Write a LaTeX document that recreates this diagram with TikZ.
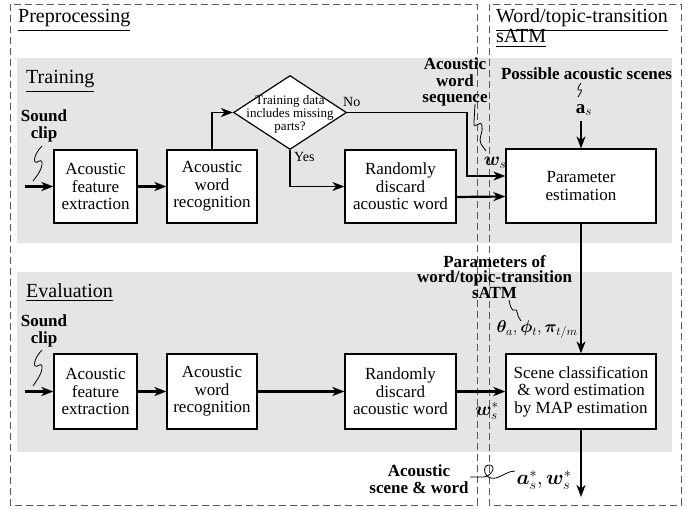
\RequirePackage{fix-cm}
\documentclass[tikz,border=0pt]{standalone}
\usepackage{amsmath}
\usepackage{bm}
\usepackage{fontspec}
\setmainfont{Liberation Serif}
\usetikzlibrary{arrows.meta,shapes.geometric}
\begin{document}
\begin{tikzpicture}[x=1pt,y=-1pt,
  box/.style={draw, fill=white, line width=1.2pt, align=center, inner sep=0pt, font=\fontsize{17}{17.5}\selectfont},
  zone/.style={draw=black!65, dash pattern=on 7pt off 4pt, line width=0.9pt},
  band/.style={fill=black!10},
  thk/.style={line width=2.2pt, -{Stealth[length=12pt,width=9pt,inset=3.5pt]}},
  thn/.style={line width=1.3pt, -{Stealth[length=12pt,width=9pt,inset=3.5pt]}},
  lbl/.style={font=\bfseries\fontsize{17}{16.5}\selectfont, align=center, inner sep=0pt},
  ttl/.style={font=\fontsize{20}{20}\selectfont, anchor=base west, inner sep=0pt},
  mth/.style={font=\fontsize{19}{19}\selectfont, inner sep=0pt},
  sq/.style={line width=0.8pt}
]
\useasboundingbox (0,0) rectangle (700,510);
% bands
\fill[band] (17,58) rectangle (672,243);
\fill[band] (17,272) rectangle (672,452);
% zones
\draw[zone] (10,4) rectangle (477,505);
\draw[zone] (489,4) rectangle (681,505);
% titles
\node[ttl] (pre) at (18,23) {\underline{Preprocessing}};
\node[ttl] (trn) at (26,84) {\underline{Training}};
\node[ttl] (evl) at (26,297) {\underline{Evaluation}};
\node[ttl] (wt1) at (496,23) {\underline{Word/topic-transition}};
\node[ttl] (wt2) at (496,43) {\underline{sATM}};
% training boxes
\node[box, minimum width=83pt, minimum height=73pt] (tfe) at (95.5,186.5) {Acoustic\\feature\\extraction};
\node[box, minimum width=90pt, minimum height=73pt] (twr) at (212,186.5) {Acoustic\\word\\recognition};
\node[box, minimum width=111pt, minimum height=73pt] (trd) at (400.5,186.5) {Randomly\\discard\\acoustic word};
\node[box, minimum width=150pt, minimum height=74pt] (pe) at (581,186) {Parameter\\estimation};
\node[draw, diamond, fill=white, line width=1.2pt, minimum width=113pt, minimum height=74pt, inner sep=0pt] (dia) at (290,112.5) {};
\node[font=\fontsize{13}{13}\selectfont, align=center, inner sep=0pt] (diat) at (290,114.5) {Training data\\includes missing\\parts?};
\node[font=\fontsize{14}{14}\selectfont, anchor=base west, inner sep=0pt] (no) at (343,107) {No};
\node[font=\fontsize{14}{14}\selectfont, anchor=base west, inner sep=0pt] (yes) at (294,162) {Yes};
% evaluation boxes
\node[box, minimum width=83pt, minimum height=75pt] (efe) at (95.5,391.5) {Acoustic\\feature\\extraction};
\node[box, minimum width=90pt, minimum height=75pt] (ewr) at (212,391.5) {Acoustic\\word\\recognition};
\node[box, minimum width=111pt, minimum height=75pt] (erd) at (400.5,391.5) {Randomly\\discard\\acoustic word};
\node[box, minimum width=150pt, minimum height=75pt] (sc) at (581,391.5) {Scene classification\\\& word estimation\\by MAP estimation};
% labels
\node[lbl] (tsnd) at (44,126) {Sound\\clip};
\node[lbl] (esnd) at (44,331) {Sound\\clip};
\node[lbl] (aws) at (455,82) {Acoustic\\word\\sequence};
\node[lbl] (pas) at (586.5,74) {Possible acoustic scenes};
\node[lbl, font=\bfseries\fontsize{17}{15.5}\selectfont] (par) at (494.5,277) {Parameters of\\word/topic-transition\\sATM};
\node[lbl] (asw) at (419,479) {Acoustic\\scene \& word};
\node[mth] (as) at (584,110) {$\mathbf{a}_{s}$};
\node[mth] (ws) at (495,163) {$\bm{w}_{s}$};
\node[mth, font=\fontsize{17}{17}\selectfont] (th) at (537,330) {$\bm{\theta}_{a},\bm{\phi}_{t},\bm{\pi}_{t/m}$};
\node[mth] (wss) at (487,411) {$\bm{w}_{s}^{*}$};
\node[mth, font=\fontsize{20.5}{20.5}\selectfont] (out) at (544,480) {$\bm{a}_{s}^{*},\bm{w}_{s}^{*}$};
% coordinates
\coordinate (tin) at (25,186.5);
\coordinate (ein) at (25,391.5);
\coordinate (noturn) at (467,112.5);
\coordinate (outend) at (581,497);
% training connectors
\draw[thk] (tin) -- (tfe);
\draw[thk] (tfe) -- (twr);
\draw[thn] (twr.north) |- (dia.west);
\draw[thn] (dia.east) -- (noturn) |- ([yshift=10pt]pe.west);
\draw[thn] (dia.south) |- (trd.west);
\draw[thk] ([yshift=-10.5pt]trd.east) -- ([yshift=-10.5pt]pe.west);
\draw[thn] (pe.north |- as.south) ++(0,5) -- (pe.north);
\draw[thn] (pe.south) -- (sc.north);
% evaluation connectors
\draw[thk] (ein) -- (efe);
\draw[thk] (efe) -- (ewr);
\draw[thk] (ewr) -- (erd);
\draw[thk] (erd) -- (sc);
\draw[thk] (sc.south) -- (outend);
% squiggles
\draw[sq] (42,146) .. controls (36,152) and (33,160) .. (35,162) .. controls (37,164) and (41,158) .. (42,162) .. controls (43,168) and (37,176) .. (33,181);
\draw[sq] (42,350) .. controls (36,356) and (33,364) .. (35,366) .. controls (37,368) and (41,362) .. (42,366) .. controls (43,372) and (37,380) .. (33,386);
\draw[sq] (475,104) -- (474,122) .. controls (473,132) and (481,118) .. (482,126) .. controls (483,134) and (478,138) .. (481,144) -- (486,151);
\draw[sq] (581,83) .. controls (578,87) and (577,90) .. (579,90) .. controls (581,90) and (582,89) .. (581,92) -- (578,97);
\draw[sq] (509,300) .. controls (510,306) and (512,312) .. (515,310) .. controls (518,308) and (516,316) .. (521,321);
\draw[sq] (470,477) -- (483,477) .. controls (492,477) and (497,465) .. (489,465) .. controls (481,465) and (484,481) .. (496,478) .. controls (503,476) and (508,471) .. (515,471);
\end{tikzpicture}
\end{document}
